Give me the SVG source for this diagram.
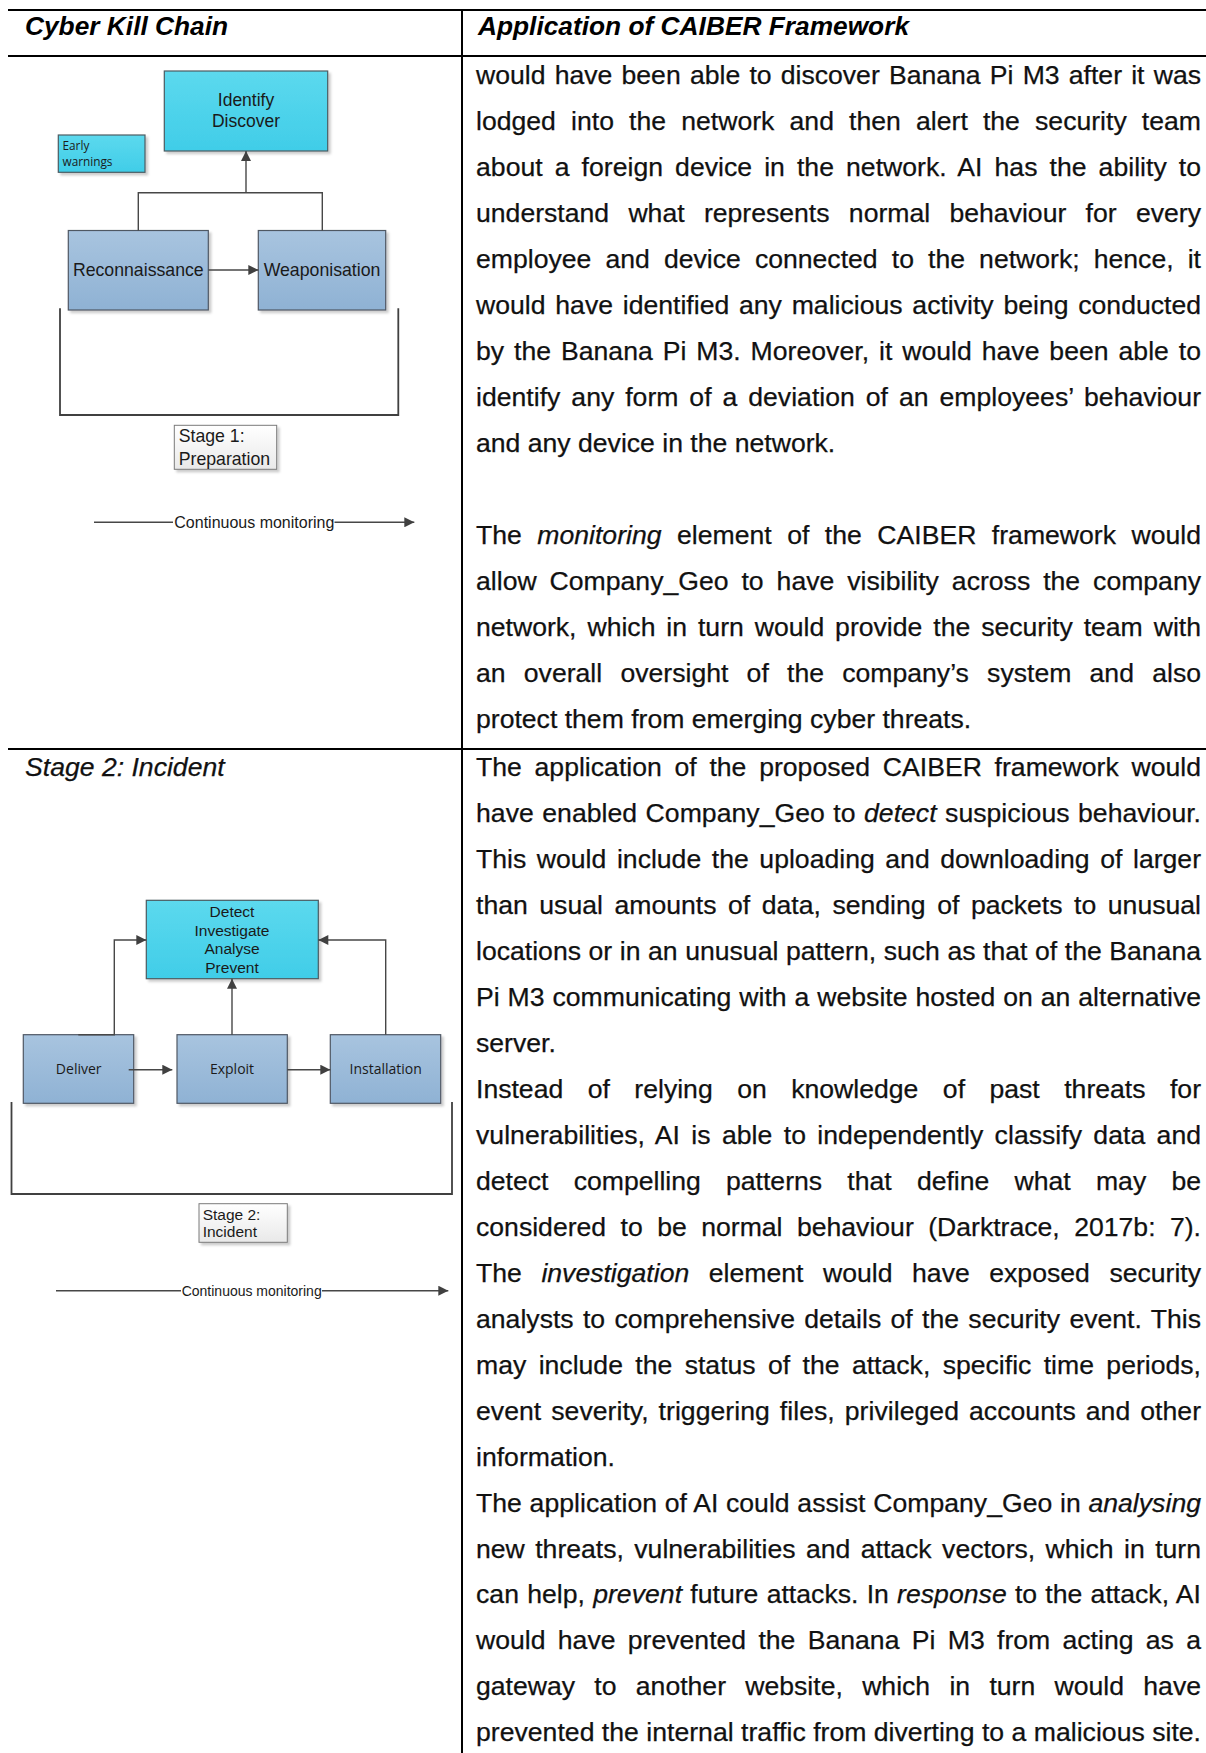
<svg xmlns="http://www.w3.org/2000/svg" width="1206" height="1753" viewBox="0 0 1206 1753">
  <defs>
    <linearGradient id="gCyan" x1="0" y1="0" x2="0" y2="1">
      <stop offset="0" stop-color="#5cd9ee"/>
      <stop offset="1" stop-color="#40cde8"/>
    </linearGradient>
    <linearGradient id="gBlue" x1="0" y1="0" x2="0" y2="1">
      <stop offset="0" stop-color="#a8c4df"/>
      <stop offset="1" stop-color="#8fb2d4"/>
    </linearGradient>
    <linearGradient id="gNote" x1="0" y1="0" x2="0" y2="1">
      <stop offset="0" stop-color="#ffffff"/>
      <stop offset="1" stop-color="#e9e9e9"/>
    </linearGradient>
    <filter id="shadow" x="-10%" y="-10%" width="130%" height="130%">
      <feDropShadow dx="2.5" dy="2.5" stdDeviation="1" flood-color="#000" flood-opacity="0.2"/>
    </filter>
    <marker id="arrow" viewBox="0 0 10 10" refX="10" refY="5" markerWidth="11" markerHeight="10" markerUnits="userSpaceOnUse" orient="auto">
      <path d="M0,0 L10,5 L0,10 z" fill="#404040"/>
    </marker>
    <style>
      .rule { stroke:#000; stroke-width:2; fill:none; }
      .body { font-family:"Liberation Sans", Arial, sans-serif; font-size:26.6px; fill:#111; stroke:#111; stroke-width:0.25px; }
      .head { font-family:"Liberation Sans", Arial, sans-serif; font-size:26.3px; font-weight:bold; font-style:italic; fill:#000; }
      .it { font-style:italic; }
      .cyan { fill:url(#gCyan); stroke:#4b5b62; stroke-width:1.2; filter:url(#shadow); }
      .blue { fill:url(#gBlue); stroke:#4f5864; stroke-width:1.2; filter:url(#shadow); }
      .note { fill:url(#gNote); stroke:#7a7a7a; stroke-width:1; filter:url(#shadow); }
      .lbl { font-family:"Liberation Sans", Arial, sans-serif; fill:#1a1a1a; text-anchor:middle; }
      .lbl2 { font-family:"Open Sans", "Noto Sans", sans-serif; fill:#1a1a1a; text-anchor:middle; }
      .conn { fill:none; stroke:#474747; stroke-width:1.4; }
      .brace { fill:none; stroke:#404040; stroke-width:1.8; }
      .mon { font-family:"Liberation Sans", Arial, sans-serif; fill:#1a1a1a; }
    </style>
  </defs>

  <rect width="1206" height="1753" fill="#fff"/>

  <!-- table rules -->
  <g id="table">
    <line class="rule" x1="8" y1="10" x2="1206" y2="10"/>
    <line class="rule" x1="8" y1="56" x2="1206" y2="56"/>
    <line class="rule" x1="8" y1="749" x2="1206" y2="749"/>
    <line class="rule" x1="462" y1="10" x2="462" y2="1753"/>
  </g>

  <!-- column headings -->
  <g id="headings">
    <text class="head" x="25" y="35">Cyber Kill Chain</text>
    <text class="head" x="478" y="35" font-size="26.6">Application of CAIBER Framework</text>
    <text class="body it" x="25" y="775.8">Stage 2: Incident</text>
  </g>

  <!-- stage 1 nodes -->
  <g id="identify-discover">
    <rect class="cyan" x="164.3" y="71" width="163.4" height="80"/>
    <text class="lbl" x="246" y="106" font-size="17.5">Identify</text>
    <text class="lbl" x="246" y="127" font-size="17.5">Discover</text>
  </g>
  <g id="early-warnings">
    <rect class="cyan" x="58.3" y="135" width="86.7" height="37.3"/>
    <text x="62.5" y="150" font-family="'Open Sans', 'Noto Sans', sans-serif" font-size="11.8" fill="#1a1a1a">Early</text>
    <text x="62.5" y="165.5" font-family="'Open Sans', 'Noto Sans', sans-serif" font-size="11.8" fill="#1a1a1a">warnings</text>
  </g>
  <g id="reconnaissance">
    <rect class="blue" x="68.3" y="230.5" width="140" height="79.5"/>
    <text class="lbl" x="138.3" y="276" font-size="17.7">Reconnaissance</text>
  </g>
  <g id="weaponisation">
    <rect class="blue" x="258.3" y="230.5" width="127.4" height="79.5"/>
    <text class="lbl" x="322" y="276" font-size="17.7">Weaponisation</text>
  </g>
  <g id="stage1-label">
    <rect class="note" x="174.3" y="425.3" width="102.4" height="44"/>
    <text x="178.7" y="442.3" font-family="'Liberation Sans', Arial, sans-serif" font-size="17.7" fill="#1a1a1a">Stage 1:</text>
    <text x="178.7" y="464.5" font-family="'Liberation Sans', Arial, sans-serif" font-size="17.7" fill="#1a1a1a">Preparation</text>
  </g>

  <!-- stage 2 nodes -->
  <g id="detect-investigate">
    <rect class="cyan" x="146.3" y="900.3" width="172" height="78.4"/>
    <text class="lbl" x="232" y="917.3" font-size="15.5">Detect</text>
    <text class="lbl" x="232" y="935.8" font-size="15.5">Investigate</text>
    <text class="lbl" x="232" y="954.3" font-size="15.5">Analyse</text>
    <text class="lbl" x="232" y="972.7" font-size="15.5">Prevent</text>
  </g>
  <g id="deliver">
    <rect class="blue" x="23.3" y="1034.7" width="110.4" height="68.6"/>
    <text class="lbl2" x="78.7" y="1074.3" font-size="14">Deliver</text>
  </g>
  <g id="exploit">
    <rect class="blue" x="177" y="1034.7" width="110.3" height="68.6"/>
    <text class="lbl2" x="232" y="1074.3" font-size="14">Exploit</text>
  </g>
  <g id="installation">
    <rect class="blue" x="330.3" y="1034.7" width="110.4" height="68.6"/>
    <text class="lbl2" x="385.7" y="1074.3" font-size="14">Installation</text>
  </g>
  <g id="stage2-label">
    <rect class="note" x="199" y="1203.7" width="88.3" height="38.6"/>
    <text x="202.7" y="1220" font-family="'Liberation Sans', Arial, sans-serif" font-size="15.5" fill="#1a1a1a">Stage 2:</text>
    <text x="202.7" y="1236.7" font-family="'Liberation Sans', Arial, sans-serif" font-size="15.5" fill="#1a1a1a">Incident</text>
  </g>

  <!-- connectors, brackets and monitoring timelines -->
  <g id="connectors">
    <path class="conn" d="M138.3,230.5 V192.7 H322.3 V230.5"/>
    <path class="conn" d="M246,192.7 V151" marker-end="url(#arrow)"/>
    <path class="conn" d="M208.3,270 H258.3" marker-end="url(#arrow)"/>
    <path class="brace" d="M60,308.3 V415 H398.3 V308.3"/>
    <line class="conn" x1="94" y1="522.3" x2="173" y2="522.3"/>
    <line class="conn" x1="334.5" y1="522.3" x2="414.3" y2="522.3" marker-end="url(#arrow)"/>
    <text class="mon" x="174.3" y="527.6" font-size="16" textLength="160" lengthAdjust="spacingAndGlyphs">Continuous monitoring</text>

    <path class="conn" d="M78.3,1034.7 H114.3 V940 H146.3" marker-end="url(#arrow)"/>
    <path class="conn" d="M385.7,1034.7 V940 H318.3" marker-end="url(#arrow)"/>
    <path class="conn" d="M232,1034.7 V978.7" marker-end="url(#arrow)"/>
    <path class="conn" d="M128.7,1069.7 H172.3" marker-end="url(#arrow)"/>
    <path class="conn" d="M287.3,1069.7 H330.3" marker-end="url(#arrow)"/>
    <path class="brace" d="M11.5,1102 V1194 H452 V1102"/>
    <line class="conn" x1="56" y1="1290.7" x2="181" y2="1290.7"/>
    <line class="conn" x1="322" y1="1290.7" x2="448.3" y2="1290.7" marker-end="url(#arrow)"/>
    <text class="mon" x="181.7" y="1295.5" font-size="14" textLength="140" lengthAdjust="spacingAndGlyphs">Continuous monitoring</text>
  </g>

  <!-- right column: stage 1 text -->
  <g id="text-stage1" class="body">
    <text x="476" y="84" word-spacing="1.8" textLength="725" lengthAdjust="spacing">would have been able to discover Banana Pi M3 after it was</text>
    <text x="476" y="130" word-spacing="7.78" textLength="725" lengthAdjust="spacing">lodged into the network and then alert the security team</text>
    <text x="476" y="176" word-spacing="4.62" textLength="725" lengthAdjust="spacing">about a foreign device in the network. AI has the ability to</text>
    <text x="476" y="221.9" word-spacing="11.92" textLength="725" lengthAdjust="spacing">understand what represents normal behaviour for every</text>
    <text x="476" y="267.9" word-spacing="6.71" textLength="725" lengthAdjust="spacing">employee and device connected to the network; hence, it</text>
    <text x="476" y="313.9" word-spacing="2.4" textLength="725" lengthAdjust="spacing">would have identified any malicious activity being conducted</text>
    <text x="476" y="359.9" word-spacing="2.46" textLength="725" lengthAdjust="spacing">by the Banana Pi M3. Moreover, it would have been able to</text>
    <text x="476" y="405.9" word-spacing="3.51" textLength="725" lengthAdjust="spacing">identify any form of a deviation of an employees’ behaviour</text>
    <text x="476" y="451.8">and any device in the network.</text>
    <text x="476" y="543.8" word-spacing="8.11" textLength="725" lengthAdjust="spacing">The <tspan class="it">monitoring</tspan> element of the CAIBER framework would</text>
    <text x="476" y="589.8" word-spacing="5.58" textLength="725" lengthAdjust="spacing">allow Company_Geo to have visibility across the company</text>
    <text x="476" y="635.8" word-spacing="3.52" textLength="725" lengthAdjust="spacing">network, which in turn would provide the security team with</text>
    <text x="476" y="681.7" word-spacing="10.79" textLength="725" lengthAdjust="spacing">an overall oversight of the company’s system and also</text>
    <text x="476" y="727.7">protect them from emerging cyber threats.</text>
  </g>

  <!-- right column: stage 2 text -->
  <g id="text-stage2" class="body">
    <text x="476" y="775.8" word-spacing="5.36" textLength="725" lengthAdjust="spacing">The application of the proposed CAIBER framework would</text>
    <text x="476" y="821.8" word-spacing="1.07" textLength="725" lengthAdjust="spacing">have enabled Company_Geo to <tspan class="it">detect</tspan> suspicious behaviour.</text>
    <text x="476" y="867.8" word-spacing="3.21" textLength="725" lengthAdjust="spacing">This would include the uploading and downloading of larger</text>
    <text x="476" y="913.7" word-spacing="4.16" textLength="725" lengthAdjust="spacing">than usual amounts of data, sending of packets to unusual</text>
    <text x="476" y="959.7" word-spacing="0.17" textLength="725" lengthAdjust="spacing">locations or in an unusual pattern, such as that of the Banana</text>
    <text x="476" y="1005.7" word-spacing="0.56" textLength="725" lengthAdjust="spacing">Pi M3 communicating with a website hosted on an alternative</text>
    <text x="476" y="1051.7">server.</text>
    <text x="476" y="1097.7" word-spacing="17.07" textLength="725" lengthAdjust="spacing">Instead of relying on knowledge of past threats for</text>
    <text x="476" y="1143.6" word-spacing="3.95" textLength="725" lengthAdjust="spacing">vulnerabilities, AI is able to independently classify data and</text>
    <text x="476" y="1189.6" word-spacing="17.82" textLength="725" lengthAdjust="spacing">detect compelling patterns that define what may be</text>
    <text x="476" y="1235.6" word-spacing="7.05" textLength="725" lengthAdjust="spacing">considered to be normal behaviour (Darktrace, 2017b: 7).</text>
    <text x="476" y="1281.6" word-spacing="12.17" textLength="725" lengthAdjust="spacing">The <tspan class="it">investigation</tspan> element would have exposed security</text>
    <text x="476" y="1327.6" word-spacing="1.92" textLength="725" lengthAdjust="spacing">analysts to comprehensive details of the security event. This</text>
    <text x="476" y="1373.5" word-spacing="4.99" textLength="725" lengthAdjust="spacing">may include the status of the attack, specific time periods,</text>
    <text x="476" y="1419.5" word-spacing="2.61" textLength="725" lengthAdjust="spacing">event severity, triggering files, privileged accounts and other</text>
    <text x="476" y="1465.5">information.</text>
    <text x="476" y="1511.5" word-spacing="0.25" textLength="725" lengthAdjust="spacing">The application of AI could assist Company_Geo in <tspan class="it">analysing</tspan></text>
    <text x="476" y="1557.5" word-spacing="3.04" textLength="725" lengthAdjust="spacing">new threats, vulnerabilities and attack vectors, which in turn</text>
    <text x="476" y="1603.4" word-spacing="0.79" textLength="725" lengthAdjust="spacing">can help, <tspan class="it">prevent</tspan> future attacks. In <tspan class="it">response</tspan> to the attack, AI</text>
    <text x="476" y="1649.4" word-spacing="4.93" textLength="725" lengthAdjust="spacing">would have prevented the Banana Pi M3 from acting as a</text>
    <text x="476" y="1695.4" word-spacing="11.9" textLength="725" lengthAdjust="spacing">gateway to another website, which in turn would have</text>
    <text x="476" y="1741.4" textLength="725" lengthAdjust="spacing">prevented the internal traffic from diverting to a malicious site.</text>
  </g>
</svg>
